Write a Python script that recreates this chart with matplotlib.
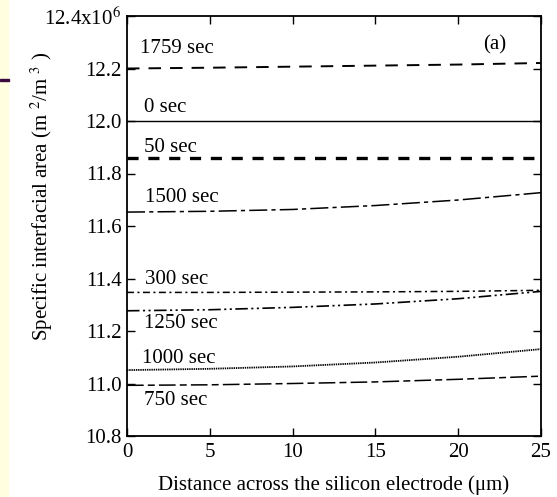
import matplotlib
matplotlib.use("Agg")
import matplotlib.pyplot as plt
from matplotlib.patches import Rectangle

plt.rcParams['font.family'] = ['Liberation Serif', 'DejaVu Serif']
plt.rcParams['mathtext.fontset'] = 'stix'
plt.rcParams['lines.scale_dashes'] = False

# data, y values in units of 1e6 m^2/m^3
x = [0, 5, 10, 15, 20, 25]
y_0 = [12.0, 12.0, 12.0, 12.0, 12.0, 12.0]
y_50 = [11.86, 11.86, 11.86, 11.86, 11.86, 11.86]
y_300 = [11.347, 11.347, 11.348, 11.349, 11.351, 11.355]
y_750 = [10.993, 10.995, 11.0, 11.006, 11.016, 11.028]
y_1000 = [11.051, 11.056, 11.065, 11.08, 11.102, 11.131]
y_1250 = [11.277, 11.281, 11.29, 11.303, 11.323, 11.351]
y_1500 = [11.653, 11.656, 11.663, 11.678, 11.699, 11.727]
y_1759 = [12.200, 12.203, 12.207, 12.211, 12.215, 12.221]

yticks = [10.8, 11.0, 11.2, 11.4, 11.6, 11.8, 12.0, 12.2, 12.4]
ytick_labels = ['10.8', '11.0', '11.2', '11.4', '11.6', '11.8', '12.0', '12.2', r'12.4x10$^{6}$']
xticks = [0, 5, 10, 15, 20, 25]

fig = plt.figure(figsize=(5.57, 4.97), dpi=100)
# slide background strip on the left
fig.patches.append(Rectangle((0, 0), 8/557, 1, transform=fig.transFigure, color='#ffffe0', zorder=0))
fig.patches.append(Rectangle((0, 1-81/497), 9/557, 2/497, transform=fig.transFigure, color='#3a0a3e', zorder=1))

ax = fig.add_axes([127/557, 1-436/497, 414/557, 420/497])

ax.plot(x, y_0, color='black', lw=1.0)
ax.plot(x, y_1759, color='black', lw=1.4, dashes=(9, 6.5))
ax.plot(x, y_50, color='black', lw=2.4, dashes=(8, 7))
ax.plot(x, y_1500, color='black', lw=1.1, dashes=(13, 3, 3, 3))
ax.plot(x, y_300, color='black', lw=1.1, dashes=(5, 2.5, 1.5, 2.5))
ax.plot(x, y_1250, color='black', lw=1.2, dashes=(9, 2.5, 1.5, 2.5, 1.5, 2.5))
ax.plot(x, y_1000, color='black', lw=1.3, dashes=(1, 0.6))
ax.plot(x, y_750, color='black', lw=1.1, dashes=(12, 3, 5, 3))

fs = 15
ax.text(0.8, 12.278, '1759 sec', fontsize=fs, va='center')
ax.text(1.0, 12.05, '0 sec', fontsize=fs, va='center')
ax.text(1.0, 11.90, '50 sec', fontsize=fs, va='center')
ax.text(1.1, 11.707, '1500 sec', fontsize=fs, va='center')
ax.text(1.1, 11.398, '300 sec', fontsize=fs, va='center')
ax.text(1.0, 11.227, '1250 sec', fontsize=fs, va='center')
ax.text(0.9, 11.097, '1000 sec', fontsize=fs, va='center')
ax.text(1.0, 10.937, '750 sec', fontsize=fs, va='center')
ax.text(22.2, 12.29, '(a)', fontsize=fs, ha='center', va='center')

ax.set_xlim(0, 25)
ax.set_ylim(10.8, 12.4)
ax.set_xticks(xticks)
ax.set_xticklabels([str(t) for t in xticks])
ax.set_yticks(yticks)
ax.set_yticklabels(ytick_labels)
ax.tick_params(direction='in', length=6, width=1, top=True, right=True, labelsize=fs, pad=4)
ax.tick_params(axis='x', pad=5)
for s in ax.spines.values():
    s.set_linewidth(1.3)

ax.set_xlabel('Distance across the silicon electrode (μm)', fontsize=fs, va='center')
ax.xaxis.set_label_coords(0.5, -0.117)
ax.set_ylabel(r'Specific interfacial area (m $^{2}$/m $^{3}$ )', fontsize=fs, va='center')
ax.yaxis.set_label_coords(-0.205, 0.571)

fig.savefig('out.png', dpi=100)
